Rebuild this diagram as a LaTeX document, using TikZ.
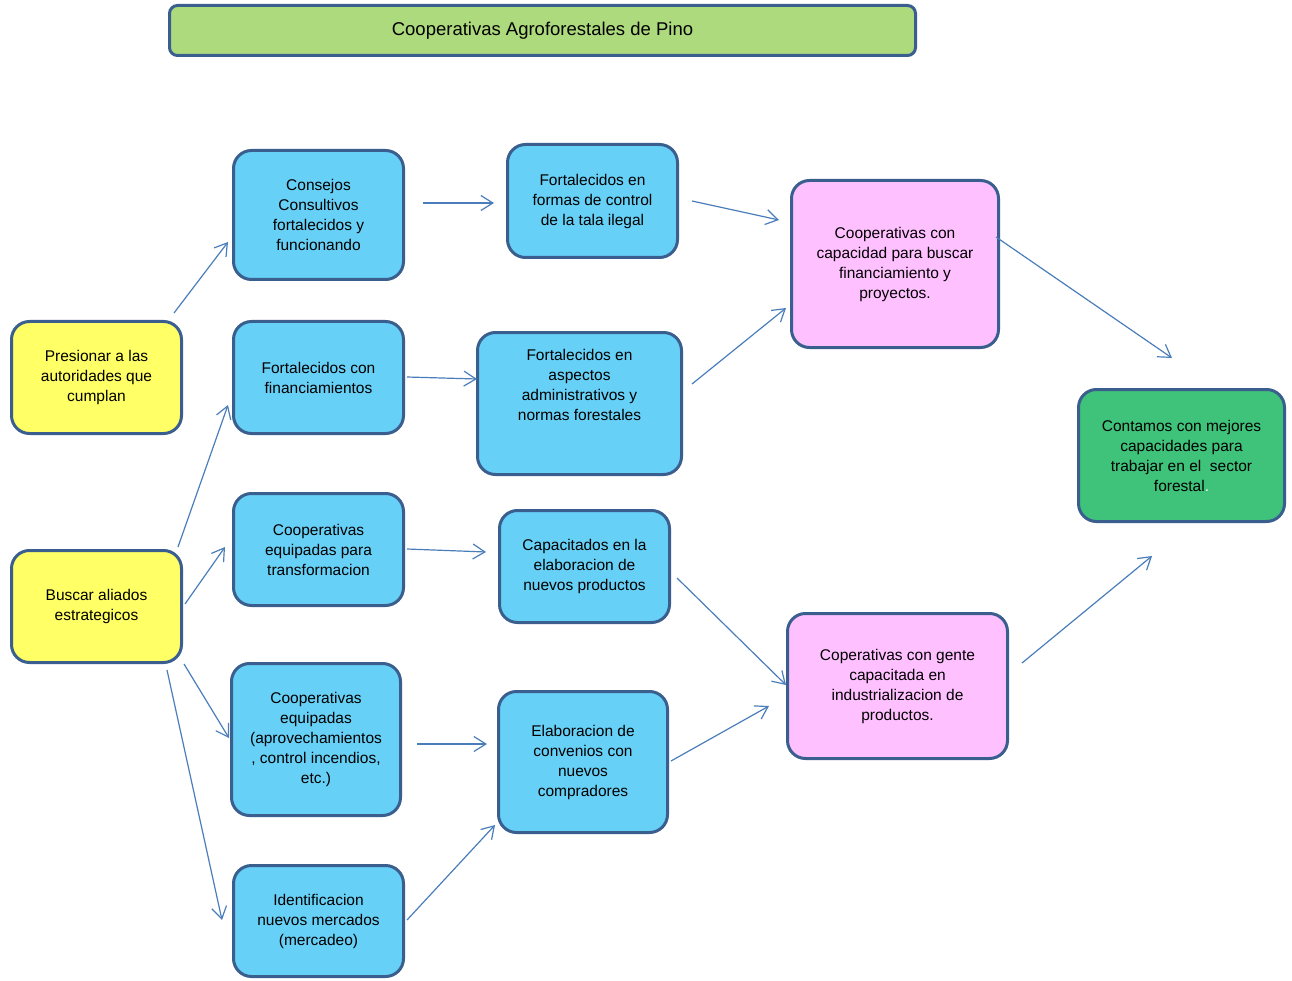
\documentclass[tikz,border=0pt]{standalone}
\usepackage{fontspec}
\setmainfont{Liberation Sans}
\usetikzlibrary{arrows.meta,calc}
\definecolor{bordc}{HTML}{3A5F8F}
\definecolor{arrc}{HTML}{4A7EBB}
\definecolor{yel}{HTML}{FFFF66}
\definecolor{sky}{HTML}{67D0F6}
\definecolor{pinkc}{HTML}{FFC0FF}
\definecolor{greenc}{HTML}{3FC27A}
\definecolor{titlec}{HTML}{AEDA7E}
\tikzset{
  box/.style={draw=bordc, line width=3pt, rounded corners=18pt, align=center,
    font=\fontsize{15.5}{20}\selectfont, inner sep=2pt},
  ybox/.style={box, fill=yel},
  bbox/.style={box, fill=sky},
  pbox/.style={box, fill=pinkc},
  gbox/.style={box, fill=greenc},
  conn/.style={draw=arrc, line width=1.2pt, -{Straight Barb[length=12pt,width=15pt,line width=1.2pt]}},
}
\begin{document}
\begin{tikzpicture}[x=1pt,y=-1pt]
\useasboundingbox (0,0) rectangle (1292,981);
\fill[white] (0,0) rectangle (1292,981);
\node[draw=bordc, line width=3pt, rounded corners=8pt, fill=titlec, minimum width=746pt, minimum height=50pt,
  font=\fontsize{18.5}{22}\selectfont] (title) at (542.5,30.5) {Cooperativas Agroforestales de Pino};

\node[ybox, minimum width=170pt, minimum height=112pt] (pres) at (96.5,377.5) {Presionar a las\\autoridades que\\cumplan};
\node[ybox, minimum width=170pt, minimum height=112pt] (busc) at (96.5,606.5) {Buscar aliados\\estrategicos};

\node[bbox, minimum width=170pt, minimum height=129pt] (cons) at (318.5,215) {Consejos\\Consultivos\\fortalecidos y\\funcionando};
\node[bbox, minimum width=170pt, minimum height=112pt] (finan) at (318.5,377.5) {Fortalecidos con\\financiamientos};
\node[bbox, minimum width=170pt, minimum height=112pt] (equipt) at (318.5,549.5) {Cooperativas\\equipadas para\\transformacion};
\node[bbox, minimum width=169pt, minimum height=152pt] (equipa) at (316,739.5) {Cooperativas\\equipadas\\(aprovechamientos\\, control incendios,\\etc.)};
\node[bbox, minimum width=170pt, minimum height=111pt] (ident) at (318.5,921) {Identificacion\\nuevos mercados\\(mercadeo)};

\node[bbox, minimum width=170pt, minimum height=113pt] (formas) at (592.5,201) {Fortalecidos en\\formas de control\\de la tala ilegal};
\node[bbox, minimum width=204pt, minimum height=142pt, text depth=37pt] (aspec) at (579.5,403.5) {Fortalecidos en\\aspectos\\administrativos y\\normas forestales};
\node[bbox, minimum width=170pt, minimum height=112pt] (capac) at (584.5,566.5) {Capacitados en la\\elaboracion de\\nuevos productos};
\node[bbox, minimum width=169pt, minimum height=141pt] (elab) at (583,762) {Elaboracion de\\convenios con\\nuevos\\compradores};

\node[pbox, minimum width=207pt, minimum height=167pt] (cap) at (895,264) {Cooperativas con\\capacidad para buscar\\financiamiento y\\proyectos.};
\node[pbox, minimum width=220pt, minimum height=145pt] (gente) at (897.5,686) {Coperativas con gente\\capacitada en\\industrializacion de\\productos.};
\node[gbox, minimum width=206pt, minimum height=132pt] (cont) at (1181.5,455.5) {Contamos con mejores\\capacidades para\\trabajar en el \ sector\\forestal\textcolor{white}{.}};

\draw[conn] ($(pres.north east)+(-9,-7)$) -- ($(cons.west)+(-4,27)$);
\draw[conn] ($(busc.north east)+(-5,-2)$) -- ($(finan.west)+(-4,27.5)$);
\draw[conn] ($(busc.east)+(2,-2.5)$) -- ($(equipt.west)+(-7,-2.5)$);
\draw[conn] ($(busc.south east)+(1,0)$) -- ($(equipa.west)+(-1,-1.5)$);
\draw[conn] ($(busc.south east)+(-16,6)$) -- ($(ident.west)+(-10,-1)$);
\draw[conn] ($(cons.east)+(18,-12)$) -- ($(formas.west)+(-12,2)$);
\draw[conn] ($(finan.east)+(2,-0.5)$) -- ($(aspec.west)+(1,-24.5)$);
\draw[conn] ($(equipt.east)+(2,-0.5)$) -- ($(capac.west)+(-12,-14.5)$);
\draw[conn] ($(equipa.east)+(15,4.5)$) -- ($(elab.west)+(-10,-18)$);
\draw[conn] ($(ident.east)+(2,-1)$) -- ($(elab.south west)+(-2,-9)$);
\draw[conn] ($(formas.east)+(13,0)$) -- ($(cap.west)+(-11,-44)$);
\draw[conn] ($(aspec.east)+(9,-19.5)$) -- ($(cap.west)+(-4,44)$);
\draw[conn] ($(capac.east)+(6,11.5)$) -- ($(gente.west)+(0,-1)$);
\draw[conn] ($(elab.east)+(2,-1)$) -- ($(gente.west)+(-17,20)$);
\draw[conn] ($(cap.east)+(-4,-27)$) -- ($(cont.north)+(-9.5,-30)$);
\draw[conn] ($(gente.east)+(13,-23)$) -- ($(cont.south)+(-29.5,33)$);
\end{tikzpicture}
\end{document}
